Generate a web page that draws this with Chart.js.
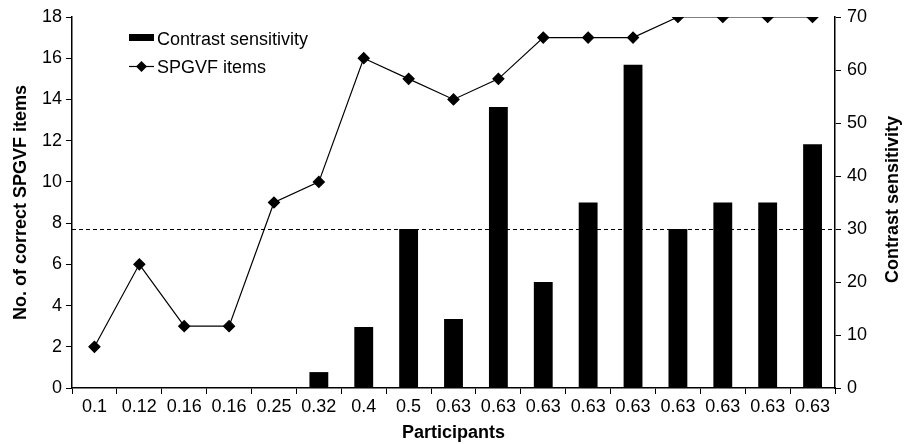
<!DOCTYPE html>
<html lang="en">
<head>
<meta charset="UTF-8">
<title>SPGVF items and contrast sensitivity</title>
<style>
    html, body { margin: 0; padding: 0; background: #fff; }
    #spgvfChart { display: block; }
</style>
</head>
<body>
<canvas id="spgvfChart" width="904" height="444"></canvas>
<script src="https://cdn.jsdelivr.net/npm/chart.js"></script>
<script>
    // data
    const participants = ['0.1', '0.12', '0.16', '0.16', '0.25', '0.32', '0.4', '0.5',
        '0.63', '0.63', '0.63', '0.63', '0.63', '0.63', '0.63', '0.63', '0.63'];
    const contrastSensitivity = [0, 0, 0, 0, 0, 3, 11.5, 30, 13, 53, 20, 35, 61, 30, 35, 35, 46];
    const spgvfItems = [2, 6, 3, 3, 9, 10, 16, 15, 14, 15, 17, 17, 17, 18, 18, 18, 18];
    const cutoffLine = [30]; // on the contrast sensitivity axis

    const FONT = "'Liberation Sans', Arial, Helvetica, sans-serif";
    Chart.defaults.font.family = FONT;
    Chart.defaults.color = '#000';

    // dashed cut-off across the whole plot
    const cutoffPlugin = {
        id: 'cutoff',
        beforeDatasetsDraw(chart) {
            const { ctx, chartArea } = chart;
            const y = Math.round(chart.scales.yRight.getPixelForValue(cutoffLine[0])) + 0.5;
            ctx.save();
            ctx.strokeStyle = '#000';
            ctx.lineWidth = 1;
            ctx.setLineDash([4, 3]);
            ctx.beginPath();
            ctx.moveTo(chartArea.left, y);
            ctx.lineTo(chartArea.right, y);
            ctx.stroke();
            ctx.restore();
        }
    };

    // right title reads bottom-to-top, and the legend sits inside the plot
    const extrasPlugin = {
        id: 'extras',
        afterDraw(chart) {
            const { ctx, chartArea } = chart;
            ctx.save();
            ctx.fillStyle = '#000';
            ctx.font = 'bold 18px ' + FONT;
            ctx.textAlign = 'center';
            ctx.textBaseline = 'middle';
            ctx.translate(893, (chartArea.top + chartArea.bottom) / 2 - 3);
            ctx.rotate(-Math.PI / 2);
            ctx.fillText('Contrast sensitivity', 0, 0);
            ctx.restore();

            ctx.save();
            ctx.fillStyle = '#000';
            ctx.strokeStyle = '#000';
            ctx.font = '18px ' + FONT;
            ctx.textBaseline = 'alphabetic';
            ctx.fillRect(129, 34, 25, 7);
            ctx.fillText('Contrast sensitivity', 157, 45);
            ctx.lineWidth = 1.2;
            ctx.beginPath();
            ctx.moveTo(129, 66.5);
            ctx.lineTo(154, 66.5);
            ctx.stroke();
            ctx.beginPath();
            ctx.moveTo(141.5, 61);
            ctx.lineTo(147, 66.5);
            ctx.lineTo(141.5, 72);
            ctx.lineTo(136, 66.5);
            ctx.closePath();
            ctx.fill();
            ctx.fillText('SPGVF items', 157, 73);
            ctx.restore();
        }
    };

    new Chart(document.getElementById('spgvfChart'), {
        data: {
            labels: participants,
            datasets: [
                {
                    type: 'line',
                    label: 'SPGVF items',
                    data: spgvfItems,
                    yAxisID: 'yLeft',
                    borderColor: '#000',
                    borderWidth: 1.2,
                    pointStyle: 'rectRot',
                    pointRadius: 5.5,
                    pointBackgroundColor: '#000',
                    pointBorderColor: '#000',
                    tension: 0,
                    order: 0
                },
                {
                    type: 'bar',
                    label: 'Contrast sensitivity',
                    data: contrastSensitivity,
                    yAxisID: 'yRight',
                    backgroundColor: '#000',
                    barPercentage: 0.42,
                    categoryPercentage: 1,
                    order: 1
                }
            ]
        },
        options: {
            responsive: false,
            animation: false,
            layout: { padding: { top: 17, left: 0, right: 0, bottom: 0 } },
            plugins: {
                legend: { display: false },
                tooltip: { enabled: false }
            },
            scales: {
                x: {
                    offset: true,
                    grid: { offset: true, drawOnChartArea: false, drawTicks: true, tickLength: 6, color: '#000' },
                    border: { color: '#000', width: 1.5 },
                    ticks: { font: { size: 18 }, padding: 2, maxRotation: 0, autoSkip: false },
                    title: { display: true, text: 'Participants', font: { size: 18, weight: 'bold' }, padding: { top: 0, bottom: 0 } },
                    afterFit(scale) { scale.height = 56; }
                },
                yLeft: {
                    position: 'left',
                    min: 0,
                    max: 18,
                    ticks: { stepSize: 2, font: { size: 18 }, padding: 4 },
                    grid: { drawOnChartArea: false, drawTicks: true, tickLength: 6, color: '#000' },
                    border: { color: '#000', width: 1.5 },
                    title: { display: true, text: 'No. of correct SPGVF items', font: { size: 18, weight: 'bold' }, padding: { top: 10, bottom: 0 } },
                    afterFit(scale) { scale.width = 72; }
                },
                yRight: {
                    position: 'right',
                    min: 0,
                    max: 70,
                    ticks: { stepSize: 10, font: { size: 18 }, padding: 6 },
                    grid: { drawOnChartArea: false, drawTicks: true, tickLength: 6, color: '#000' },
                    border: { color: '#000', width: 1.5 },
                    afterFit(scale) { scale.width = 69; }
                }
            }
        },
        plugins: [cutoffPlugin, extrasPlugin]
    });
</script>
</body>
</html>
